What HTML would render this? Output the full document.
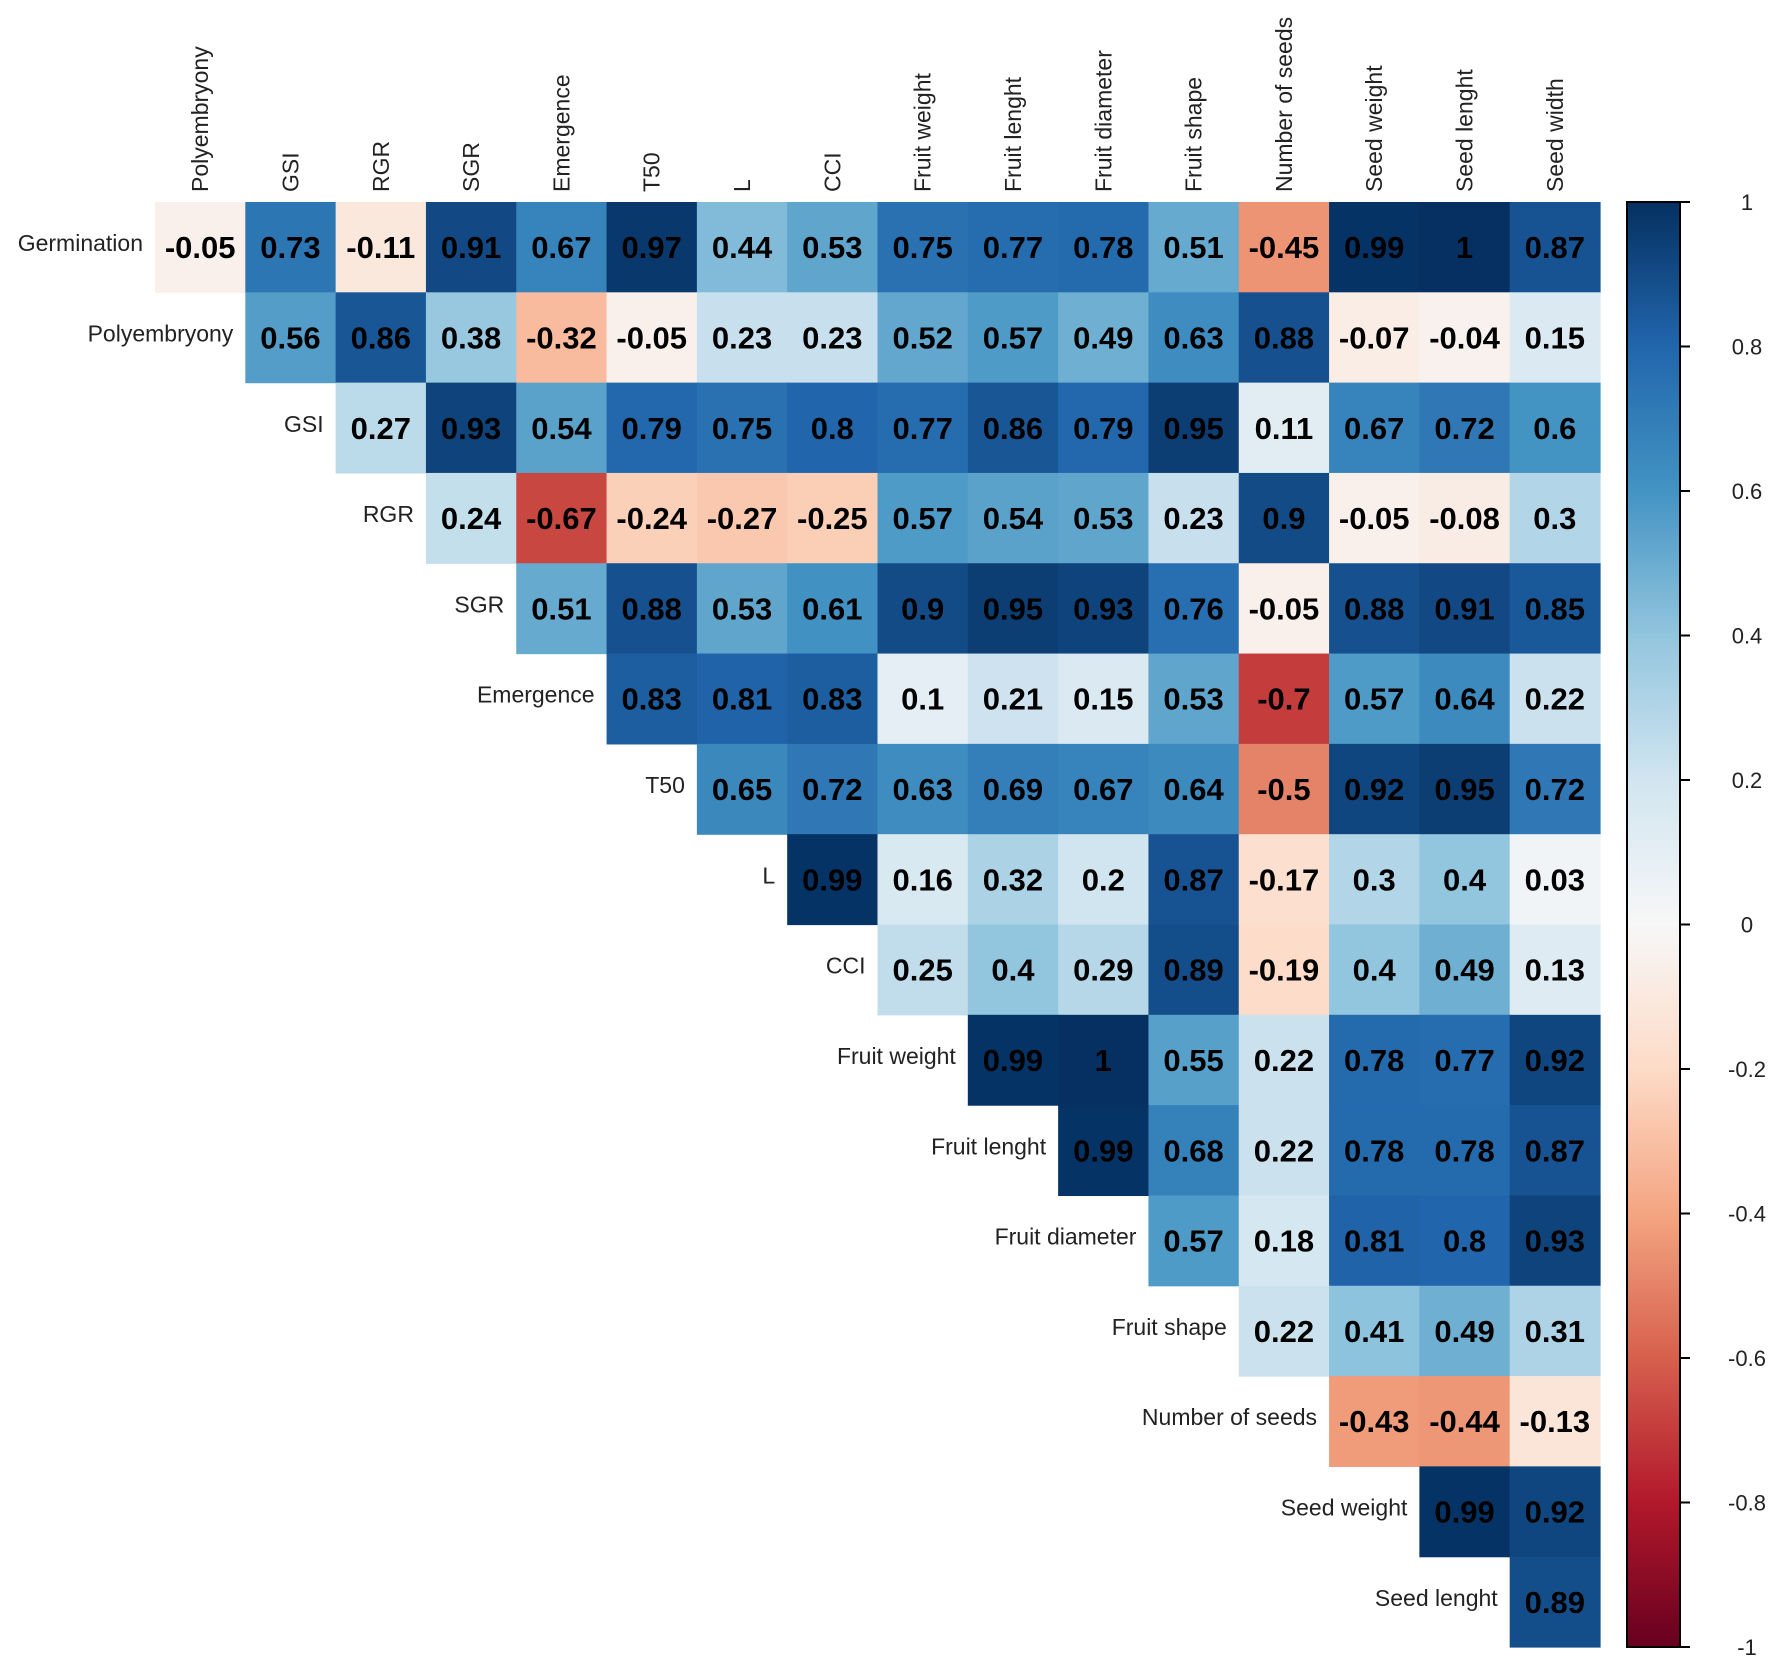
<!DOCTYPE html>
<html><head><meta charset="utf-8"><style>
html,body{margin:0;padding:0;background:#fff;}
svg{display:block;}
</style></head><body>
<svg id="chart" width="1772" height="1661" xmlns="http://www.w3.org/2000/svg" font-family="Liberation Sans, sans-serif">
<defs>
<linearGradient id="cbgrad" x1="0" y1="1" x2="0" y2="0">
<stop offset="0" stop-color="#67001F"/><stop offset="0.1" stop-color="#B2182B"/><stop offset="0.2" stop-color="#D6604D"/><stop offset="0.3" stop-color="#F4A582"/><stop offset="0.4" stop-color="#FDDBC7"/><stop offset="0.5" stop-color="#F7F7F7"/><stop offset="0.6" stop-color="#D1E5F0"/><stop offset="0.7" stop-color="#92C5DE"/><stop offset="0.8" stop-color="#4393C3"/><stop offset="0.9" stop-color="#2166AC"/><stop offset="1" stop-color="#053061"/>
</linearGradient>
</defs>
<g id="cells"></g><g id="rowlabels"></g><g id="collabels"></g><g id="colorbar"></g>
</svg>
<script>
const rowNames = ["Germination","Polyembryony","GSI","RGR","SGR","Emergence","T50","L","CCI","Fruit weight","Fruit lenght","Fruit diameter","Fruit shape","Number of seeds","Seed weight","Seed lenght"];
const colNames = ["Polyembryony","GSI","RGR","SGR","Emergence","T50","L","CCI","Fruit weight","Fruit lenght","Fruit diameter","Fruit shape","Number of seeds","Seed weight","Seed lenght","Seed width"];
const r0 = [-0.05,0.73,-0.11,0.91,0.67,0.97,0.44,0.53,0.75,0.77,0.78,0.51,-0.45,0.99,1,0.87];
const r1 = [0.56,0.86,0.38,-0.32,-0.05,0.23,0.23,0.52,0.57,0.49,0.63,0.88,-0.07,-0.04,0.15];
const r2 = [0.27,0.93,0.54,0.79,0.75,0.8,0.77,0.86,0.79,0.95,0.11,0.67,0.72,0.6];
const r3 = [0.24,-0.67,-0.24,-0.27,-0.25,0.57,0.54,0.53,0.23,0.9,-0.05,-0.08,0.3];
const r4 = [0.51,0.88,0.53,0.61,0.9,0.95,0.93,0.76,-0.05,0.88,0.91,0.85];
const r5 = [0.83,0.81,0.83,0.1,0.21,0.15,0.53,-0.7,0.57,0.64,0.22];
const r6 = [0.65,0.72,0.63,0.69,0.67,0.64,-0.5,0.92,0.95,0.72];
const r7 = [0.99,0.16,0.32,0.2,0.87,-0.17,0.3,0.4,0.03];
const r8 = [0.25,0.4,0.29,0.89,-0.19,0.4,0.49,0.13];
const r9 = [0.99,1,0.55,0.22,0.78,0.77,0.92];
const r10 = [0.99,0.68,0.22,0.78,0.78,0.87];
const r11 = [0.57,0.18,0.81,0.8,0.93];
const r12 = [0.22,0.41,0.49,0.31];
const r13 = [-0.43,-0.44,-0.13];
const r14 = [0.99,0.92];
const r15 = [0.89];
const rows = [r0,r1,r2,r3,r4,r5,r6,r7,r8,r9,r10,r11,r12,r13,r14,r15];
const cbTicks = [1,0.8,0.6,0.4,0.2,0,-0.2,-0.4,-0.6,-0.8,-1];
const cbTickLabels = ["1","0.8","0.6","0.4","0.2","0","-0.2","-0.4","-0.6","-0.8","-1"];

const NS="http://www.w3.org/2000/svg";
const X0=155, Y0=202, CS=(1600-155)/16;
const xPos=j=>X0+j*CS, yPos=i=>Y0+i*CS;
const CB={x:1627,w:53,top:202,bot:1647};
const cbY=v=>CB.top+(1-v)/2*(CB.bot-CB.top);
const stops=[[-1,[103,0,31]],[-0.8,[178,24,43]],[-0.6,[214,96,77]],[-0.4,[244,165,130]],[-0.2,[253,219,199]],[0,[247,247,247]],[0.2,[209,229,240]],[0.4,[146,197,222]],[0.6,[67,147,195]],[0.8,[33,102,172]],[1,[5,48,97]]];
function color(v){
  for(let k=0;k<stops.length-1;k++){
    const [a,ca]=stops[k],[b,cb]=stops[k+1];
    if(v>=a&&v<=b){const t=(v-a)/(b-a);const c=ca.map((x,i)=>Math.round(x+(cb[i]-x)*t));return `rgb(${c})`;}
  }
  return v>0?"rgb(5,48,97)":"rgb(103,0,31)";
}
function mk(tag,attrs,parent){const e=document.createElementNS(NS,tag);for(const k in attrs)e.setAttribute(k,attrs[k]);parent.appendChild(e);return e;}
const gC=document.getElementById('cells'),gR=document.getElementById('rowlabels'),gL=document.getElementById('collabels'),gB=document.getElementById('colorbar');
rows.forEach((vals,i)=>{
  vals.forEach((v,k)=>{
    const j=i+k;
    const r=mk('rect',{x:xPos(j),y:yPos(i),width:CS+0.6,height:CS+0.6,fill:color(v)},gC);
    
    
    const t=mk('text',{x:xPos(j)+CS/2,y:yPos(i)+CS/2+11,'text-anchor':'middle','font-size':31,'font-weight':'bold',fill:'#000'},gC);
    t.textContent=String(v);
    
    
  });
  const l=mk('text',{x:xPos(i)-12,y:yPos(i)+CS/2+4,'text-anchor':'end','font-size':23,fill:'#222'},gR);
  l.textContent=rowNames[i];
  
  
});
colNames.forEach((n,j)=>{
  const cx=xPos(j)+CS/2+8, y=192;
  const t=mk('text',{x:cx,y:y,transform:`rotate(-90 ${cx} ${y})`,'font-size':23,fill:'#222'},gL);
  t.textContent=n;
  
  
});
const bar=mk('rect',{x:CB.x,y:CB.top,width:CB.w,height:CB.bot-CB.top,fill:'url(#cbgrad)',stroke:'#000','stroke-width':2},gB);


cbTicks.forEach((v,k)=>{
  const y=cbY(v);
  const ln=mk('line',{x1:CB.x+CB.w,x2:CB.x+CB.w+10,y1:y,y2:y,stroke:'#000','stroke-width':2},gB);
  
  
  const t=mk('text',{x:1747,y:y+8,'text-anchor':'middle','font-size':22,fill:'#222'},gB);
  t.textContent=cbTickLabels[k];
  
  
});
</script>
</body></html>
